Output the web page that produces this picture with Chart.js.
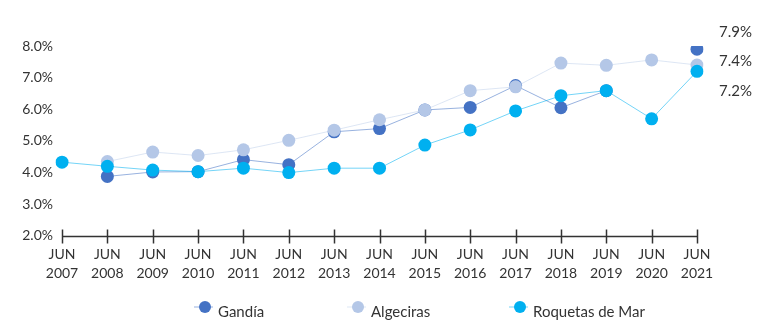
<!DOCTYPE html>
<html>
<head>
<meta charset="utf-8">
<script src="https://cdn.jsdelivr.net/npm/chart.js@4/dist/chart.umd.min.js"></script>
<style>
  html, body { margin: 0; padding: 0; background: #ffffff; }
  #wrap { width: 768px; height: 336px; }
</style>
</head>
<body>
<div id="wrap"><canvas id="chart" width="768" height="336"></canvas></div>
<script>
// Categories (June of each year)
const years = ['2007', '2008', '2009', '2010', '2011', '2012', '2013', '2014',
               '2015', '2016', '2017', '2018', '2019', '2020', '2021'];
const monthLabel = 'JUN';

// Series values (%)
const gandia    = [null, 3.88, 4.02, 4.03, 4.41, 4.25, 5.29, 5.39, 5.98, 6.06, 6.75, 6.05, 6.59, null, 7.9];
const algeciras = [null, 4.35, 4.65, 4.54, 4.72, 5.02, 5.34, 5.67, 5.98, 6.59, 6.71, 7.46, 7.39, 7.56, 7.4];
const roquetas  = [4.33, 4.2, 4.08, 4.03, 4.14, 4.0, 4.14, 4.14, 4.87, 5.35, 5.95, 6.43, 6.59, 5.7, 7.2];

const seriesNames = ['Gandía', 'Algeciras', 'Roquetas de Mar'];

// Y axis range
const yMin = 2;
const yMax = 8;
const yStep = 1;

const FONT = 'Lato, "Open Sans", sans-serif';
const TEXT = '#333333';

const pointColors = ['#4472C4', '#B4C7E7', '#00B0F0'];
const lineColors  = ['rgba(68,114,196,0.55)', 'rgba(180,199,231,0.45)', 'rgba(0,176,240,0.55)'];

// Axis with tick marks crossing it
const axisTicks = {
  id: 'axisTicks',
  afterDatasetsDraw(chart) {
    const ctx = chart.ctx;
    const x = chart.scales.x;
    const yb = Math.round(chart.chartArea.bottom) + 0.5;
    ctx.save();
    ctx.strokeStyle = '#333333';
    ctx.lineWidth = 1.5;
    ctx.beginPath();
    ctx.moveTo(x.getPixelForTick(0), yb);
    ctx.lineTo(x.getPixelForTick(x.ticks.length - 1), yb);
    ctx.stroke();
    x.ticks.forEach((t, i) => {
      const px = Math.round(x.getPixelForTick(i)) + 0.5;
      ctx.beginPath();
      ctx.moveTo(px, yb - 7);
      ctx.lineTo(px, yb + 7);
      ctx.stroke();
    });
    ctx.restore();
  }
};

// Legend row below the axis
const legendRow = {
  id: 'legendRow',
  afterDraw(chart) {
    const ctx = chart.ctx;
    const centers = [205, 358, 520];
    const cy = 307;
    ctx.save();
    ctx.font = '15px ' + FONT;
    ctx.textBaseline = 'middle';
    ctx.textAlign = 'left';
    chart.data.datasets.forEach((ds, i) => {
      const cx = centers[i];
      ctx.strokeStyle = ds.borderColor;
      ctx.lineWidth = 1;
      ctx.beginPath();
      ctx.moveTo(cx - 11, cy);
      ctx.lineTo(cx + 8, cy);
      ctx.stroke();
      ctx.fillStyle = ds.pointBackgroundColor;
      ctx.beginPath();
      ctx.arc(cx, cy, 6, 0, Math.PI * 2);
      ctx.fill();
      ctx.fillStyle = TEXT;
      ctx.fillText(ds.label, cx + 13, cy + 5);
    });
    ctx.restore();
  }
};

// Latest values listed at the right
const lastValues = {
  id: 'lastValues',
  afterDraw(chart) {
    const ctx = chart.ctx;
    const rows = [32, 61.5, 91];
    ctx.save();
    ctx.font = '15px ' + FONT;
    ctx.fillStyle = TEXT;
    ctx.textBaseline = 'middle';
    ctx.textAlign = 'left';
    chart.data.datasets.forEach((ds, i) => {
      const v = ds.data[ds.data.length - 1];
      ctx.fillText(v.toFixed(1) + '%', 719, rows[i]);
    });
    ctx.restore();
  }
};

const sources = [gandia, algeciras, roquetas];
const datasets = sources.map((arr, i) => ({
  label: seriesNames[i],
  data: arr,
  borderColor: lineColors[i],
  borderWidth: 1,
  backgroundColor: pointColors[i],
  pointBackgroundColor: pointColors[i],
  pointBorderWidth: 0,
  pointRadius: 6.5,
  pointHoverRadius: 6.5,
  tension: 0,
  spanGaps: false,
  order: 3 - i
}));

new Chart(document.getElementById('chart'), {
  type: 'line',
  data: {
    labels: years.map(y => [monthLabel, y]),
    datasets: datasets
  },
  options: {
    responsive: false,
    animation: false,
    events: [],
    layout: { padding: { left: 0, right: 71, top: 46, bottom: 44 } },
    plugins: {
      legend: { display: false },
      tooltip: { enabled: false }
    },
    scales: {
      x: {
        offset: false,
        grid: { display: false, drawTicks: false },
        border: { display: false },
        ticks: {
          color: TEXT,
          font: { family: FONT, size: 14, lineHeight: 1.36 },
          padding: 9,
          maxRotation: 0,
          autoSkip: false
        }
      },
      y: {
        min: yMin,
        max: yMax,
        grid: { display: false, drawTicks: false },
        border: { display: false },
        afterFit(scale) { scale.width = 62; },
        ticks: {
          stepSize: yStep,
          color: TEXT,
          padding: 9,
          font: { family: FONT, size: 14 },
          callback: v => v.toFixed(1) + '%'
        }
      }
    }
  },
  plugins: [axisTicks, legendRow, lastValues]
});
</script>
</body>
</html>
